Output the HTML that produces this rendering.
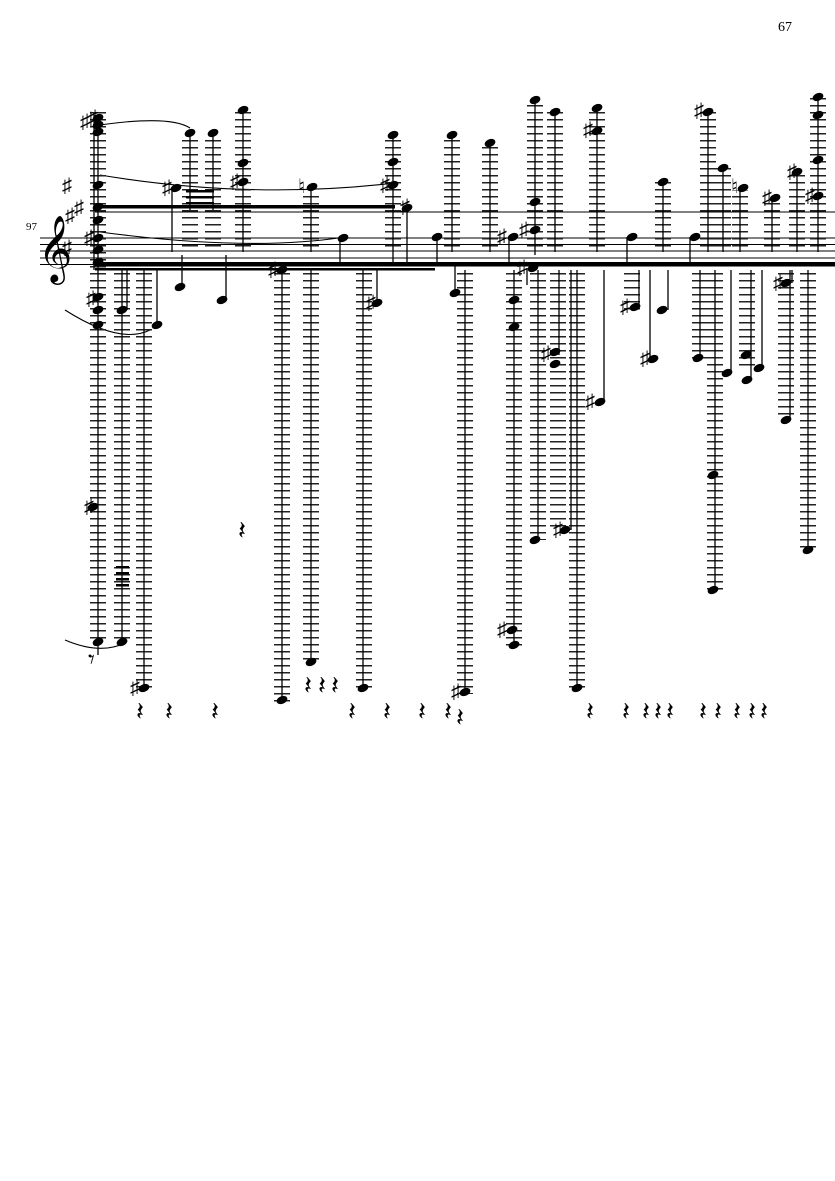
<!DOCTYPE html>
<html><head><meta charset="utf-8"><style>
html,body{margin:0;padding:0;background:#fff}
svg{display:block}
text{font-family:"Liberation Serif",serif}
</style></head><body>
<svg width="835" height="1181" viewBox="0 0 835 1181" xmlns="http://www.w3.org/2000/svg">
<defs>
<pattern id="lg" patternUnits="userSpaceOnUse" x="0" y="0" width="10" height="7"><rect x="0" y="0" width="10" height="1.5" fill="#222"/></pattern>
<ellipse id="n" cx="0" cy="0" rx="5.6" ry="3.8" transform="rotate(-22)"/>
</defs>
<text x="778" y="31" font-size="14">67</text>
<text x="26" y="230" font-size="11">97</text>
<g stroke="#000" stroke-width="0.9">
<line x1="40" y1="238" x2="835" y2="238"/><line x1="40" y1="244.5" x2="835" y2="244.5"/>
<line x1="40" y1="251" x2="835" y2="251"/><line x1="40" y1="258" x2="835" y2="258"/>
<line x1="40" y1="264.5" x2="835" y2="264.5"/>
<line x1="95" y1="212" x2="835" y2="212"/>
</g>
<text x="38" y="268" font-size="58" font-family="DejaVu Sans, sans-serif">𝄞</text>
<text x="62" y="254" font-size="20" font-family="DejaVu Sans, sans-serif">♯</text>
<rect x="95" y="262" width="740" height="4.5" fill="#000"/>
<rect x="95" y="205" width="300" height="3.5" fill="#000"/>
<rect x="95" y="268" width="340" height="2.5" fill="#000"/>
<path d="M100 175 Q250 200 395 183" stroke="#000" fill="none" stroke-width="1.1"/>
<path d="M100 232 Q250 252 345 237" stroke="#000" fill="none" stroke-width="1.1"/>
<path d="M100 125 Q170 115 190 128" stroke="#000" fill="none" stroke-width="1.1"/>
<path d="M65 310 Q120 345 150 330" stroke="#000" fill="none" stroke-width="1.1"/>
<path d="M65 640 Q100 655 125 643" stroke="#000" fill="none" stroke-width="1.1"/>
<g fill="url(#lg)">
<rect x="90" y="112" width="16" height="530"/>
<rect x="114" y="270" width="16" height="372"/>
<rect x="136" y="270" width="16" height="420"/>
<rect x="182" y="137" width="16" height="114"/>
<rect x="205" y="137" width="16" height="114"/>
<rect x="235" y="110" width="16" height="141"/>
<rect x="274" y="270" width="16" height="432"/>
<rect x="303" y="193" width="16" height="58"/>
<rect x="303" y="270" width="16" height="394"/>
<rect x="356" y="270" width="16" height="420"/>
<rect x="385" y="137" width="16" height="114"/>
<rect x="444" y="137" width="16" height="114"/>
<rect x="457" y="270" width="16" height="424"/>
<rect x="482" y="147" width="16" height="104"/>
<rect x="506" y="270" width="16" height="378"/>
<rect x="527" y="100" width="16" height="151"/>
<rect x="547" y="112" width="16" height="139"/>
<rect x="530" y="270" width="16" height="270"/>
<rect x="550" y="270" width="16" height="260"/>
<rect x="569" y="270" width="16" height="418"/>
<rect x="589" y="108" width="16" height="143"/>
<rect x="624" y="270" width="16" height="40"/>
<rect x="655" y="182" width="16" height="69"/>
<rect x="700" y="110" width="16" height="141"/>
<rect x="692" y="270" width="16" height="90"/>
<rect x="707" y="270" width="16" height="320"/>
<rect x="715" y="168" width="16" height="83"/>
<rect x="732" y="190" width="16" height="61"/>
<rect x="739" y="270" width="16" height="100"/>
<rect x="764" y="200" width="16" height="51"/>
<rect x="778" y="270" width="16" height="150"/>
<rect x="789" y="172" width="16" height="79"/>
<rect x="800" y="270" width="16" height="280"/>
<rect x="810" y="97" width="16" height="154"/>
</g>
<g stroke="#000" stroke-width="1.3">
<line x1="94" y1="115" x2="94" y2="270"/><line x1="98" y1="115" x2="98" y2="655"/>
<line x1="122" y1="270" x2="122" y2="642"/><line x1="127" y1="270" x2="127" y2="310"/>
<line x1="144" y1="270" x2="144" y2="688"/><line x1="157" y1="270" x2="157" y2="325"/>
<line x1="172" y1="188" x2="172" y2="252"/><line x1="182" y1="255" x2="182" y2="287"/>
<line x1="190" y1="133" x2="190" y2="210"/><line x1="213" y1="133" x2="213" y2="210"/>
<line x1="243" y1="110" x2="243" y2="252"/><line x1="226" y1="255" x2="226" y2="300"/>
<line x1="282" y1="270" x2="282" y2="700"/><line x1="311" y1="187" x2="311" y2="252"/>
<line x1="311" y1="270" x2="311" y2="662"/><line x1="340" y1="238" x2="340" y2="262"/>
<line x1="377" y1="270" x2="377" y2="303"/><line x1="363" y1="270" x2="363" y2="688"/>
<line x1="393" y1="135" x2="393" y2="262"/><line x1="407" y1="208" x2="407" y2="262"/>
<line x1="437" y1="237" x2="437" y2="262"/><line x1="452" y1="135" x2="452" y2="252"/>
<line x1="455" y1="262" x2="455" y2="293"/><line x1="465" y1="270" x2="465" y2="692"/>
<line x1="490" y1="143" x2="490" y2="252"/><line x1="509" y1="237" x2="509" y2="262"/>
<line x1="535" y1="100" x2="535" y2="255"/><line x1="514" y1="270" x2="514" y2="645"/>
<line x1="527" y1="268" x2="527" y2="285"/><line x1="555" y1="112" x2="555" y2="252"/>
<line x1="538" y1="270" x2="538" y2="540"/><line x1="559" y1="270" x2="559" y2="355"/>
<line x1="571" y1="270" x2="571" y2="530"/><line x1="577" y1="270" x2="577" y2="688"/>
<line x1="597" y1="108" x2="597" y2="252"/><line x1="604" y1="270" x2="604" y2="402"/>
<line x1="627" y1="237" x2="627" y2="262"/><line x1="639" y1="270" x2="639" y2="307"/>
<line x1="650" y1="270" x2="650" y2="359"/><line x1="663" y1="182" x2="663" y2="252"/>
<line x1="668" y1="270" x2="668" y2="310"/><line x1="690" y1="237" x2="690" y2="262"/>
<line x1="708" y1="112" x2="708" y2="252"/><line x1="700" y1="270" x2="700" y2="358"/>
<line x1="715" y1="270" x2="715" y2="590"/><line x1="723" y1="168" x2="723" y2="252"/>
<line x1="731" y1="270" x2="731" y2="373"/><line x1="740" y1="188" x2="740" y2="252"/>
<line x1="751" y1="270" x2="751" y2="380"/><line x1="762" y1="270" x2="762" y2="368"/>
<line x1="772" y1="198" x2="772" y2="252"/><line x1="790" y1="270" x2="790" y2="420"/>
<line x1="792" y1="270" x2="792" y2="283"/><line x1="797" y1="172" x2="797" y2="252"/>
<line x1="808" y1="270" x2="808" y2="550"/><line x1="818" y1="97" x2="818" y2="252"/>
</g>
<g fill="#000"><rect x="116" y="566" width="13" height="2.5"/><rect x="116" y="572" width="13" height="2.5"/><rect x="116" y="578" width="13" height="2.5"/><rect x="116" y="584" width="13" height="2.5"/>
<rect x="186" y="190" width="28" height="2.5"/><rect x="186" y="196" width="28" height="2.5"/><rect x="186" y="202" width="28" height="2.5"/></g>
<g fill="#000">
<use href="#n" x="98" y="118"/><use href="#n" x="98" y="125"/><use href="#n" x="98" y="132"/><use href="#n" x="98" y="185"/>
<use href="#n" x="98" y="207"/><use href="#n" x="98" y="220"/><use href="#n" x="98" y="238"/><use href="#n" x="98" y="250"/><use href="#n" x="98" y="262"/>
<use href="#n" x="98" y="297"/><use href="#n" x="98" y="310"/><use href="#n" x="98" y="325"/><use href="#n" x="93" y="507"/><use href="#n" x="98" y="642"/>
<use href="#n" x="122" y="310"/><use href="#n" x="122" y="642"/><use href="#n" x="144" y="688"/><use href="#n" x="157" y="325"/>
<use href="#n" x="176" y="188"/><use href="#n" x="180" y="287"/><use href="#n" x="190" y="133"/><use href="#n" x="213" y="133"/>
<use href="#n" x="243" y="110"/><use href="#n" x="243" y="163"/><use href="#n" x="243" y="182"/><use href="#n" x="222" y="300"/>
<use href="#n" x="282" y="270"/><use href="#n" x="282" y="700"/><use href="#n" x="312" y="187"/><use href="#n" x="311" y="662"/>
<use href="#n" x="343" y="238"/><use href="#n" x="377" y="303"/><use href="#n" x="363" y="688"/>
<use href="#n" x="393" y="135"/><use href="#n" x="393" y="162"/><use href="#n" x="393" y="185"/><use href="#n" x="407" y="208"/>
<use href="#n" x="437" y="237"/><use href="#n" x="452" y="135"/><use href="#n" x="455" y="293"/><use href="#n" x="465" y="692"/>
<use href="#n" x="490" y="143"/><use href="#n" x="513" y="237"/><use href="#n" x="535" y="100"/><use href="#n" x="535" y="202"/><use href="#n" x="535" y="230"/>
<use href="#n" x="514" y="300"/><use href="#n" x="514" y="327"/><use href="#n" x="512" y="630"/><use href="#n" x="514" y="645"/>
<use href="#n" x="533" y="268"/><use href="#n" x="555" y="112"/><use href="#n" x="555" y="352"/><use href="#n" x="555" y="364"/>
<use href="#n" x="535" y="540"/><use href="#n" x="565" y="530"/><use href="#n" x="577" y="688"/>
<use href="#n" x="597" y="108"/><use href="#n" x="597" y="131"/><use href="#n" x="600" y="402"/>
<use href="#n" x="632" y="237"/><use href="#n" x="635" y="307"/><use href="#n" x="653" y="359"/><use href="#n" x="663" y="182"/><use href="#n" x="662" y="310"/>
<use href="#n" x="695" y="237"/><use href="#n" x="708" y="112"/><use href="#n" x="698" y="358"/><use href="#n" x="713" y="475"/><use href="#n" x="713" y="590"/>
<use href="#n" x="723" y="168"/><use href="#n" x="727" y="373"/><use href="#n" x="743" y="188"/><use href="#n" x="746" y="355"/><use href="#n" x="747" y="380"/>
<use href="#n" x="759" y="368"/><use href="#n" x="775" y="198"/><use href="#n" x="786" y="420"/><use href="#n" x="786" y="283"/>
<use href="#n" x="797" y="172"/><use href="#n" x="808" y="550"/><use href="#n" x="818" y="97"/><use href="#n" x="818" y="115"/><use href="#n" x="818" y="160"/><use href="#n" x="818" y="196"/>
</g>
<g font-size="20" font-family="DejaVu Sans, sans-serif">
<text x="80" y="128">♯</text><text x="88" y="124">♯</text><text x="62" y="192">♯</text><text x="65" y="222">♯</text><text x="74" y="214">♯</text>
<text x="84" y="244">♯</text><text x="86" y="305">♯</text><text x="84" y="513">♯</text><text x="130" y="694">♯</text>
<text x="162" y="194">♯</text><text x="230" y="188">♯</text><text x="268" y="276">♯</text><text x="298" y="193">♮</text>
<text x="366" y="309">♯</text><text x="380" y="191">♯</text><text x="400" y="213">♯</text><text x="451" y="698">♯</text>
<text x="497" y="243">♯</text><text x="519" y="236">♯</text><text x="517" y="274">♯</text><text x="541" y="360">♯</text><text x="553" y="536">♯</text>
<text x="497" y="636">♯</text><text x="583" y="136">♯</text><text x="585" y="408">♯</text><text x="620" y="313">♯</text><text x="640" y="365">♯</text>
<text x="694" y="117">♯</text><text x="731" y="193">♮</text><text x="762" y="204">♯</text><text x="787" y="178">♯</text><text x="773" y="289">♯</text><text x="805" y="202">♯</text>
</g>
<g font-size="26" font-family="DejaVu Sans, sans-serif">
<text x="136" y="720">𝄽</text><text x="165" y="720">𝄽</text><text x="211" y="720">𝄽</text><text x="238" y="539">𝄽</text>
<text x="304" y="694">𝄽</text><text x="318" y="694">𝄽</text><text x="331" y="694">𝄽</text>
<text x="348" y="720">𝄽</text><text x="383" y="720">𝄽</text><text x="418" y="720">𝄽</text><text x="444" y="720">𝄽</text><text x="456" y="726">𝄽</text>
<text x="586" y="720">𝄽</text><text x="622" y="720">𝄽</text><text x="642" y="720">𝄽</text><text x="654" y="720">𝄽</text><text x="666" y="720">𝄽</text>
<text x="699" y="720">𝄽</text><text x="714" y="720">𝄽</text><text x="733" y="720">𝄽</text><text x="748" y="720">𝄽</text><text x="760" y="720">𝄽</text>
<text x="88" y="668">𝄾</text>
</g>
</svg>
</body></html>
